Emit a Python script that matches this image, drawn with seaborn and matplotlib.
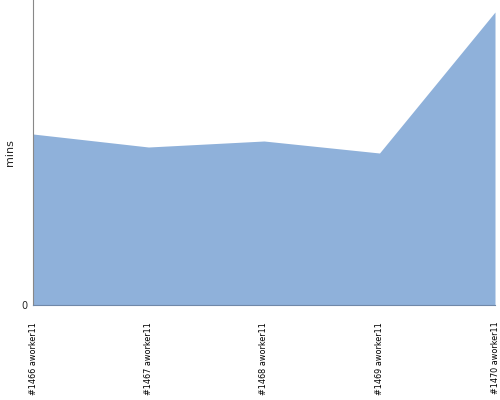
import pandas as pd
import matplotlib
matplotlib.use("Agg")
import matplotlib.pyplot as plt
import seaborn as sns

# Data
builds = ["#1466 aworker11", "#1467 aworker11", "#1468 aworker11",
          "#1469 aworker11", "#1470 aworker11"]
mins = [17.1, 15.8, 16.4, 15.2, 29.3]

df = pd.DataFrame({"build": builds, "mins": mins})
df["pos"] = range(len(df))

sns.set_style("white")
plt.rcParams["font.family"] = ["DejaVu Sans"]

fig = plt.figure(figsize=(5, 4), dpi=100)
ax = fig.add_axes([0.066, 0.2375, 0.924, 0.7625])

sns.lineplot(data=df, x="pos", y="mins", ax=ax, color="#8FB1DA", linewidth=0)
ax.fill_between(df["pos"], 0, df["mins"], color="#8FB1DA", linewidth=0)

ax.set_xlim(0, len(df) - 1)
ax.set_ylim(0, 30.5)
ax.set_xticks(df["pos"])
ax.set_xticklabels(df["build"], rotation=90, fontsize=6.5,
                   fontstretch="condensed", color="black")
ax.set_yticks([0])
ax.set_yticklabels(["0"], fontsize=7)
ax.tick_params(axis="x", length=0, pad=12)
ax.tick_params(axis="y", length=3, color="#888888", pad=1)
ax.set_xlabel("")
ax.set_ylabel("mins", fontsize=8, va="center")
ax.yaxis.set_label_coords(-0.05, 0.5)

for s in ["top", "right"]:
    ax.spines[s].set_visible(False)
ax.spines["left"].set_color("#888888")
ax.spines["left"].set_linewidth(0.8)
ax.spines["bottom"].set_color("#7088A8")
ax.spines["bottom"].set_linewidth(0.8)

fig.savefig("out.png", dpi=100)
